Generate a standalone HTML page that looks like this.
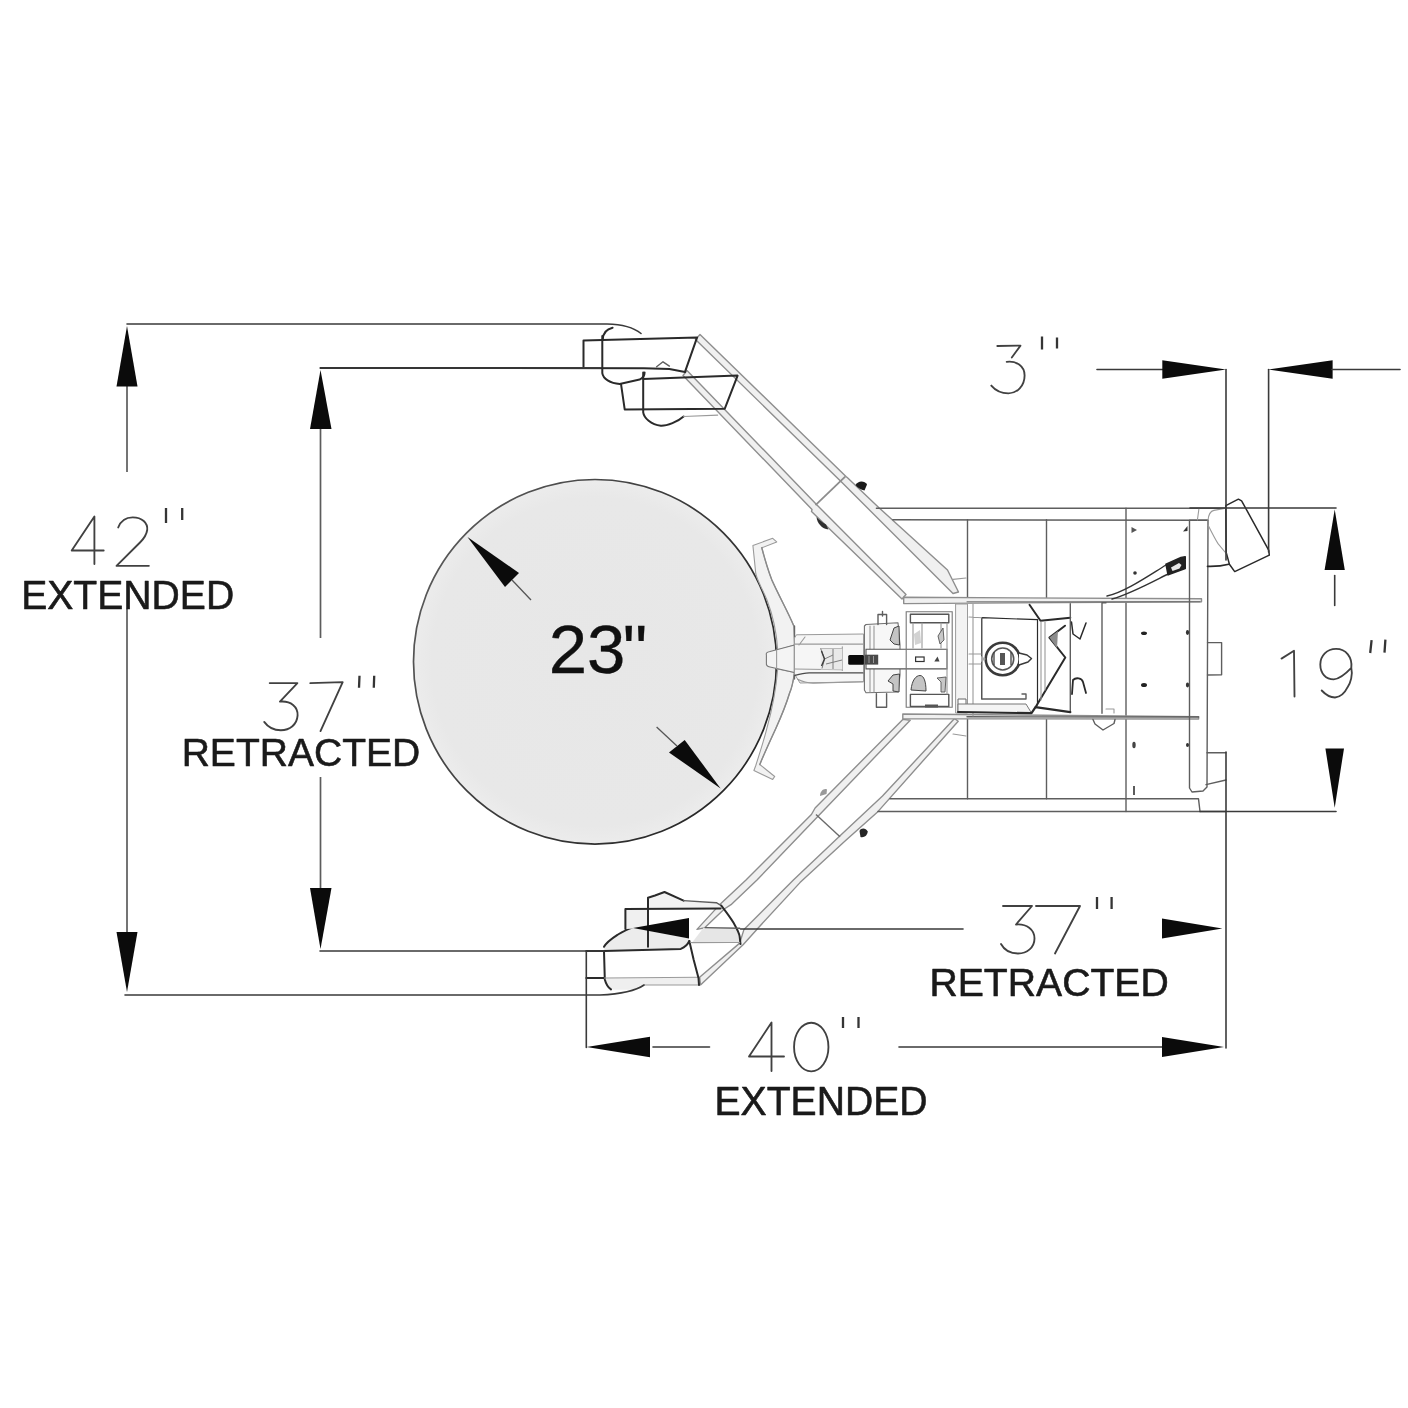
<!DOCTYPE html>
<html>
<head>
<meta charset="utf-8">
<title>Drum handler dimensions</title>
<style>
  html, body { margin: 0; padding: 0; background: #ffffff; }
  body { width: 1408px; height: 1408px; overflow: hidden; font-family: "Liberation Sans", sans-serif; }
  svg { display: block; filter: grayscale(1); }
  text { font-family: "Liberation Sans", sans-serif; }
  .dim { stroke: #3a3a3a; stroke-width: 1.6; fill: none; stroke-linecap: round; stroke-linejoin: round; }
  .dimg { stroke: #5c5c5c; stroke-width: 1.7; fill: none; }
  .ar { fill: #0b0b0b; stroke: none; }
  .num { stroke: #454040; stroke-width: 1.85; fill: none; stroke-linecap: round; stroke-linejoin: round; }
  .qt { stroke: #3a3434; stroke-width: 2.3; fill: none; stroke-linecap: butt; }
  .lbl { font-size: 41px; fill: #1a1a1a; stroke: #1a1a1a; stroke-width: 0.6; stroke-linejoin: round; }
  .ln { stroke: #5e5e5e; stroke-width: 1.4; fill: none; stroke-linecap: round; stroke-linejoin: round; }
  .lnd { stroke: #2a2a2a; stroke-width: 2; fill: none; stroke-linecap: round; stroke-linejoin: round; }
  .lt { stroke: #9a9a9a; stroke-width: 1.1; fill: none; stroke-linecap: round; stroke-linejoin: round; }
  .band { stroke: #8e8e8e; stroke-width: 1.4; fill: #f0f0f0; stroke-linejoin: round; }
</style>
</head>
<body>
<svg width="1408" height="1408" viewBox="0 0 1408 1408">
<rect x="0" y="0" width="1408" height="1408" fill="#ffffff"/>

<!-- ================= DRUM CIRCLE ================= -->
<g id="drum">
  <defs>
    <linearGradient id="cg" x1="0" y1="0.2" x2="1" y2="0.8">
      <stop offset="0" stop-color="#5c5c5c"/>
      <stop offset="0.45" stop-color="#3c3c3c"/>
      <stop offset="1" stop-color="#242424"/>
    </linearGradient>
    <radialGradient id="cf" cx="0.5" cy="0.5" r="0.5">
      <stop offset="0" stop-color="#e7e7e7"/>
      <stop offset="0.9" stop-color="#e8e8e8"/>
      <stop offset="1" stop-color="#ececec"/>
    </radialGradient>
  </defs>
  <ellipse cx="595" cy="661.8" rx="181.5" ry="182.3" fill="url(#cf)" stroke="url(#cg)" stroke-width="1.7"/>
  <polygon class="ar" points="467.5,537 519,573 505,587"/>
  <line x1="512" y1="580" x2="531" y2="600" stroke="#555" stroke-width="1.3"/>
  <polygon class="ar" points="720.6,788.4 669,752.5 684.7,740"/>
  <line x1="677" y1="746" x2="656.6" y2="727" stroke="#555" stroke-width="1.3"/>
  <text x="548.7" y="673.2" font-size="69" fill="#101010" stroke="#101010" stroke-width="0.3">23<tspan dx="-2.6">"</tspan></text>
</g>

<!-- ================= ARMS ================= -->
<g id="arms">
  <!-- upper arm : outer rail -->
  <polygon class="band" points="700,334.5 846,476.5 847.5,477.8 878.7,507.5 947.5,570 958.5,592 953,593.5 842,482.5 695.5,339.5"/>
  <!-- upper arm : inner rail -->
  <polygon class="band" points="687,370.5 816.5,504.5 906,594.5 902,599 811.5,511.5 812,509.5 683,375.5"/>
  <!-- collar upper -->
  <line x1="845.2" y1="476.6" x2="815.5" y2="505.2" stroke="#8d8d8d" stroke-width="1.8"/>
  <path d="M855.5,485 C858,480 865,480.5 867,484.5 L864.5,490.5 C861,489.5 857.5,488 855.5,485 Z" fill="#1a1a1a"/>
  <path d="M816.5,517 C817,523 822,529 828.5,529.5 L826,524.5 C822,522 819,519.5 816.5,517 Z" fill="#3a2a2e"/>

  <!-- lower arm : inner rail -->
  <polygon class="band" points="902.8,719.4 815.1,808 811.4,814.5 746,880 720.9,903.4 697,929.4 704.7,927.7 724.3,909 731,904.7 757,880 819.7,814.5 910.2,720.3"/>
  <!-- lower arm : outer rail -->
  <polygon class="band" points="954.5,718.5 882.5,796 841.9,833.9 793.4,880 744,929.4 739.7,943.1 699.6,977.2 700.5,984.9 743.1,944.8 758.4,927.7 800,882.6 845.6,840.4 877,812.6 958.2,721.2"/>
  <line x1="816" y1="814.5" x2="840" y2="836.7" stroke="#6a6a6a" stroke-width="1.4"/>
  <path d="M820,796 C820,791 824,788 827,789.5 L826.5,794 Z" fill="#a09890"/>
  <path d="M859.5,831 C861,827.5 866,828 867.7,831.5 C867.5,835.5 864,838 860.5,837 Z" fill="#2a2422"/>

  <!-- ===== upper pads ===== -->
  <!-- extended pad (top) -->
  <path class="lnd" d="M602.7,339.8 C603,333 607,329 612.6,327.8"/>
  <path class="lnd" d="M583.5,340.5 L583.5,366.8 M583.5,340.5 L697.1,337.4 L685,371.8"/>
  <path class="lnd" d="M320.5,368 L643.9,368.2 L669.4,369 L685,372"/>
  <path style="fill:none" class="lnd" d="M602.3,336 L602.3,373.2 C603,378.5 610,383.5 619.7,383.9 L639.6,379.6 C643,378 644.6,375.5 644.6,372.5"/>
  <path class="ln" d="M656.6,366.8 L663,361.8 L669.4,366.1"/>
  <!-- retracted pad -->
  <path class="lnd" d="M643.2,372.5 L643.2,412.3 C644,418 651,424.5 660.9,425.8 C667,426 678,421.5 683.6,416.5"/>
  <path class="lt" d="M683.6,416.5 L717.7,415.1"/>
  <path class="lnd" d="M621.1,384.6 L624.7,409.4 L724.8,408.7 L737.6,375.6 L643.2,378.9"/>

  <!-- ===== lower pads ===== -->
  <!-- extended pad (lowest) -->
  <path d="M604,951 L680.8,948.9 C686,946 688.5,943.5 689.3,941 L693.6,959.5 L698.5,978 L604,978 Z" fill="#ffffff" stroke="none"/>
  <path d="M604.5,978 L698.5,977.5 L699,985 L644,985 C636,991 622,990 611,989.4 C607,986 605,982.5 604.5,978 Z" fill="#efefef" stroke="none"/>
  <path d="M604,947 C606,943 610,939 614,937 C620,933 627,929.5 632.5,927.6 L689,938.5 C689,944 684,948 680.8,948.9 L604,951 Z" fill="#ececec" stroke="none"/>
  <path d="M691,944 L703.9,927.3 L738.8,929 L739.7,942.7 Z" fill="#e6e6e6" stroke="none"/>
  <path class="lnd" d="M604,946.8 C607,941.5 612.6,938 618,934.5 C624,931 628,929 632.5,927.6"/>
  <path class="lnd" d="M604,951 L680.8,948.9 C685,947 688,944 689.3,941"/>
  <path class="lnd" d="M586.3,951 L604,951 L604.8,979.4 C606,984 609,988 611,989.4 M586.3,978 L604.5,978"/>
  <path class="lt" d="M604.5,978 L698,977.3 M644,985 L699,985"/>
  <path class="lnd" d="M689.3,941 L693.6,959.5 L698.5,978 L699,985"/>
  <!-- retracted pad (lower) -->
  <path d="M648,897.75 L664.5,892 L683.6,900.6 L716.3,902.7 L721.3,905.6 L720.6,908.4 L648,909 Z" fill="#f2f2f2" stroke="none"/>
  <path d="M625.4,909 L648,909 L648,928 L625.4,929 Z" fill="#f0f0f0" stroke="none"/>
  <path class="lnd" d="M625.4,929 L625.4,909 L720.6,908.4"/>
  <path class="lnd" d="M648,946.75 L648,897.75 L655,895.5 L664.5,892 L683.6,900.6"/>
  <path class="ln" d="M683.6,900.6 L716.3,902.7 L721.3,905.6"/>
  <path class="lnd" d="M721.3,905.6 C727,913 731,918.5 733.4,922.6 C737,929 739.5,934 739.7,936.8 L740.5,944"/>
  <path class="ln" d="M705,927.6 L739.7,928.3"/>
  <path class="lt" d="M690.7,942.5 L739.7,942.5"/>
</g>


<!-- ================= FRAME ================= -->
<g id="frame">
  <!-- outer frame -->
  <path class="ln" d="M876.4,508.3 L1226,508.3"/>
  <path class="ln" d="M892.8,519.8 L1208,520.3"/>
  <path class="ln" d="M889.9,798.8 L1198.5,798.8 L1200,811.5"/>
  <path class="ln" d="M877.9,811.5 L1226,811.5"/>
  <!-- verticals -->
  <path class="ln" d="M967.5,519.8 L967.5,597 M967.5,718.5 L967.5,798.8"/>
  <path class="ln" d="M1046.5,519.8 L1046.5,599 M1046.5,718 L1046.5,798.8"/>
  <path class="ln" d="M1126,508.3 L1126,811.5"/>
  <path class="lt" d="M953,579.4 L966,578"/>
  <path class="lt" d="M953,734 L966,736"/>
  <!-- inner horizontal bands -->
  <polygon class="band" points="903.7,597.3 1201.5,598.8 1201.5,601.8 903.7,603.6"/>
  <polygon class="band" points="902.8,714 1198.6,716.6 1198.6,719 902.8,718.8"/>
  <path style="stroke-width:0.9" class="ln" d="M967,601.8 L1200,601.8"/>
  <path class="ln" d="M967,716.8 L1198.6,717"/>
  <!-- back plate -->
  <path d="M1189.5,520.3 L1208,520.3 L1207,787 L1203,791 L1192,792 L1189.5,788 Z" class="ln"/>
  <!-- tabs on the right -->
  <path class="ln" d="M1207.5,642.6 L1221.6,642.6 L1221.6,674.8 L1207.5,675"/>
  <path class="ln" d="M1207,752.7 L1226,752.7 M1226,780 L1206,784.6"/>
  <!-- top right caster -->
  <path d="M1225.8,505.6 L1238.4,499.2 L1241.6,500.8 L1268.8,550.3 L1269.3,555.1 L1234.7,571.6 L1229.4,564.2 L1226.2,552.4 Z" style="stroke-width:1.5;fill:#ffffff" class="lnd"/>
  <path class="lt" d="M1199,508.2 L1197.4,520 M1208,520.5 C1208.5,514 1211,511 1213.9,510.4 L1225.8,508.2 M1208,525 C1212,533 1215,539 1218.2,543.9 L1226.2,553.5"/><path style="stroke-width:1.7" class="lnd" d="M1207.5,566.3 C1215,566.5 1222,566 1228.8,564.2"/>
  <!-- rivet marks -->
  <path d="M1183,531.5 L1187.5,526 L1187.5,531 Z" fill="#333"/><path d="M1131.5,527 L1137,530 L1131.5,533 Z" fill="#555"/>
  <circle cx="1135" cy="573" r="1.8" fill="#333"/>
  <ellipse cx="1144" cy="633.2" rx="3" ry="1.8" fill="#2a2022"/>
  <ellipse cx="1144" cy="685" rx="3" ry="2" fill="#2a2022"/>
  <ellipse cx="1187.5" cy="632.5" rx="1.6" ry="2.4" fill="#333"/>
  <ellipse cx="1187.5" cy="685" rx="1.6" ry="2.4" fill="#333"/>
  <ellipse cx="1134" cy="745" rx="1.7" ry="3.2" fill="#444"/>
  <ellipse cx="1187.5" cy="745" rx="1.5" ry="2" fill="#333"/>
  <path d="M1134,786 L1134,795" stroke="#333" stroke-width="1.6"/>
  <!-- lever -->
  <path style="stroke:#333" class="ln" d="M1107,596 C1125,592 1148,576 1166,565 M1112,599 C1130,594 1150,583 1169,573.5"/>
  <path d="M1166,564.2 L1181,557.5 L1185.2,556.7 L1185.2,568.4 L1168.1,574.8 Z" fill="#222" stroke="#222" stroke-width="1.6" stroke-linejoin="round"/>
  <path d="M1171,567.5 L1179,563 L1181.5,565 L1179.5,568.5 L1172.5,571 Z" fill="#e8e8e8"/>
  <!-- small notch bottom -->
  <path class="ln" d="M1093,719.5 L1095,724 L1103,730 L1114,723.5 L1115,719.5"/>
</g>


<!-- ================= CENTRE MECHANISM ================= -->
<g id="mech">
  <!-- cradle hugging the drum -->
  <path d="M752.9,545.5 L772.7,538.3 L776.7,541.9 L761.8,547.8 C765,560 768,570 771.7,579.6 C779,596 788,612 793.6,625.4 L794.6,645 L777.7,650 C776.5,630 772,613 766.8,599.5 C762,588 757,580 755.8,573.7 Z" fill="#f1f2f2" stroke="#9a9a9a" stroke-width="1.1" stroke-linejoin="round"/>
  <path d="M777.7,669 L794.6,672.5 C793,683 791,690 789.6,693 C786,705 781,717 775.7,728.7 C770,741 764,754 759.8,764.5 L774.7,776.5 L772.7,779.4 L753.9,770.5 L755.8,765.5 C760,752 764,740 766.8,728.7 C772,710 776,690 777.7,669 Z" fill="#f1f2f2" stroke="#9a9a9a" stroke-width="1.1" stroke-linejoin="round"/>
  <path style="stroke:#8a8a8a" class="ln" d="M761.8,547.8 C765,560 768,570 771.7,579.6 C779,596 788,612 793.6,625.4"/>
  <path style="stroke:#8a8a8a" class="ln" d="M794.6,672.5 C793,683 791,690 789.6,693 C786,705 781,717 775.7,728.7 C770,741 764,754 759.8,764.5"/>
  <!-- nose -->
  <path d="M794.5,645 L770,651.5 C766,652 766,654 766.4,655 L766.4,663 C766,665.5 767,666.5 770,667 L794.5,672.5 Z" fill="#f4f4f4" stroke="#777" stroke-width="1.1" stroke-linejoin="round"/>
  <path class="lt" d="M776.6,650 L776.6,669"/>
  <path style="stroke:#666" class="ln" d="M794.5,626 L794.5,679"/>
  <!-- tube -->
  <path d="M796.4,634.8 L863.6,634 L863.6,681.8 L800,683 L794.5,674 L794.5,638 Z" fill="#f6f6f6" stroke="#9a9a9a" stroke-width="1"/>
  <path class="lt" d="M794.5,644.1 L863,644.1 M794.5,669 L842.3,669.7 M842.3,646.7 L842.3,670.5 M820.7,648.6 L842.4,648.6 M805,637 L799,645"/>
  <path d="M820.7,648.6 L842.3,648.6 L842.3,669.5 L820.7,669.5 Z" fill="#e9e9e9"/>
  <path d="M820.7,648.6 L824.5,659 L822,668.5 M824.5,659 L833,655 M826,664 L842,660 M833,649 L833,669" stroke="#7d7d7d" stroke-width="1" fill="none"/>
  <path d="M821.5,651 L824.5,659 L821.5,666" stroke="#3c3c3c" stroke-width="1.4" fill="none"/>
  <path style="stroke:#4a4a4a" class="ln" d="M795,675.4 C800,674 805,673 809.2,672.9 L862.9,672.9"/><path class="lt" d="M797.7,679.3 C803,682 808,683 813,683.1 L862.9,681.8"/>
  <rect x="848.2" y="654.9" width="16" height="9.8" rx="1.5" fill="#0a0a0a"/>
  <!-- block 1 -->
  <path d="M864.4,626 L866,624.5 L898,622.8 L900,645 L900,675 L898,692 L866,692.7 L864.4,690 Z" fill="#f7f7f7" stroke="#6f6f6f" stroke-width="1.1" stroke-linejoin="round"/>
  <path class="ln" d="M878,624.5 L878,614.5 L886.6,614.5 L886.6,624.5 M882.5,611.5 L882.5,616"/>
  <path class="ln" d="M876.4,693.6 L876.4,707.2 L886.6,707.2 L886.6,693.6"/>
  <path d="M890,640 L894,628 L899,626 L899.5,645 L894,644 Z" fill="#c4c4c4" stroke="#444" stroke-width="1"/>
  <path d="M888,681 L893,675 L899.5,674 L899,692 L893,691 L893,684 Z" fill="#c4c4c4" stroke="#444" stroke-width="1"/>
  <path class="lt" d="M870,626 L870,692 M874,626 L874,692"/>
  <!-- beam -->
  <path d="M866,649.3 L947,649.3 L947,668.9 L866,668.9 Z" fill="#ffffff" stroke="#555" stroke-width="1.1"/>
  <rect x="864.8" y="654.7" width="13.4" height="9.9" fill="#4a4a4a"/><path d="M869,656 L869,663 M873.5,656 L873.5,663" stroke="#9a9a9a" stroke-width="1"/>
  <rect x="915.6" y="657" width="8.5" height="4.5" fill="none" stroke="#333" stroke-width="1.2"/>
  <path d="M934.3,661.5 L937.5,656.5 L939.5,661.5 Z" fill="#444"/>
  <!-- right block -->
  <path d="M906.2,611.8 L952.2,611.8 L952.2,707.2 L906.2,707.2 Z" fill="none" stroke="#777" stroke-width="1.1"/>
  <path style="stroke:#555" class="ln" d="M910.4,614.3 L948.8,614.3 L948.8,622.8 L910.4,622.8 Z"/>
  <path style="stroke:#555" class="ln" d="M910.4,694.4 L948.8,694.4 L948.8,706.4 L910.4,706.4 Z"/>
  <path class="lt" d="M913,623 L913,648 M922,623 L922,648 M947,623 L947,694 M941,623 L941,648"/>
  <path d="M914,634 L920,630 L921,643 L915,645 Z" fill="#d2d2d2"/>
  <path d="M938,636 L943,628 L944,640 L940,644 Z" fill="#c8c8c8" stroke="#555" stroke-width="0.9"/>
  <path d="M911,690 C912,680 916,675.5 920,675.5 C924,675.5 926,682 926,691 Z" fill="#c4c4c4" stroke="#444" stroke-width="1"/>
  <path d="M937,678 L946,677 L945,692 L941,692 L941,682 Z" fill="#c8c8c8" stroke="#555" stroke-width="0.9"/>
  <path d="M925,704.5 L938,704.5 L938,707.5 L925,707.5 Z" fill="#555"/>
  <!-- column -->
  <path d="M955.6,604 L967.5,604 L967.5,713 L955.6,713 Z" fill="#f3f3f3" stroke="#9a9a9a" stroke-width="1"/>
  <path d="M958,699 L966,699 L966,711 L958,711 Z" fill="#ffffff" stroke="#666" stroke-width="1"/>
  <!-- motor box -->
  <path style="stroke-width:1.2" class="lnd" d="M981.8,699 L981.8,617.7 L1037.5,619.7 L1037.5,705"/>
  <path class="lt" d="M969,617 L981.8,617.7 M969,654 L981,654 M969,664 L981,664 M973,604 L973,716"/>
  <path class="lnd" d="M1029.5,604.8 L1040.5,620.7 L1070.3,617.7"/>
  <path class="ln" d="M1070.3,603.8 L1070.3,712.2"/>
  <path class="lnd" d="M1065,625.7 L1049.4,637.6 L1065.3,657.5 L1035.5,707.2"/>
  <path d="M1049.4,637.6 L1058,631 L1057,648 Z" fill="#8c8c8c"/>
  <path class="lt" d="M1041,622 L1041,700 M1045,622 L1045,690"/>
  <path d="M958,704 L1026,704 L1031.5,713 L958,712 Z" fill="#f4f4f4" stroke="#777" stroke-width="1"/>
  <path style="stroke-width:2.2" class="lnd" d="M958,712 L1031.5,713.2 L1035.5,707.2 L1070.3,712.2"/>
  <path class="ln" d="M982,699 L1026,699 L1026,694 L1022,694"/>
  <!-- eye shape -->
  <ellipse cx="1002.7" cy="659" rx="17" ry="16.2" fill="#ffffff" stroke="#3a3a3a" stroke-width="2.6"/>
  <ellipse cx="1002.7" cy="659" rx="11" ry="11" fill="#ffffff" stroke="#555" stroke-width="1.6"/>
  <path d="M1019,653 L1027,655 L1031.5,658.5 L1028,662 L1019,665" fill="#ffffff" stroke="#3a3a3a" stroke-width="1.5" stroke-linejoin="round"/>
  <path d="M1000,653 L1005,653 L1005,665 L1000,665 Z" fill="#555"/>
  <path d="M994,652 L994,665 M1011,652 L1011,665" stroke="#444" stroke-width="1.3"/>
  <path d="M986,659 L981,656 L981,662 Z" fill="#aaa"/>
  <!-- clips -->
  <path style="stroke-width:1.5" class="lnd" d="M1071.5,622 L1073,634 L1080,639 L1086,623"/>
  <path style="stroke-width:1.8" class="lnd" d="M1072,694 L1073,680 C1076,677 1082,678 1083,682 L1086,693"/>
  <!-- panel -->
  <path class="ln" d="M1102,713.2 L1102,602.8 L1106,602.8"/>
  <path class="lt" d="M1106,709 L1114,709 L1114,713"/>
</g>


<!-- ================= DIMENSIONS ================= -->
<g id="dims">
  <!-- 42" extended (left, vertical) -->
  <path class="dim" d="M127,324 L607,324 Q630,324.5 641,333.5"/>
  <line class="dimg" x1="127" y1="386" x2="127" y2="472"/>
  <polygon class="ar" points="127,326 137.5,386.5 116.5,386.5"/>
  <line class="dimg" x1="127" y1="609" x2="127" y2="932"/>
  <polygon class="ar" points="127,992 137.5,932 116.5,932"/>
  <path class="dim" d="M125,995 L600,995 Q632,993.5 644,985"/>
  <!-- digits 42" -->
  <path class="num" d="M103.7,550.5 L71.7,550.5 L94.4,516.4 L94.4,564.1"/>
  <path class="num" d="M118.2,527.5 C121,520 127,517.3 132.7,517.3 C142,517.3 148,523 147.2,530 C146.5,535 144,538.5 140,542.5 L116.5,565.8 L148.9,565.8"/>
  <path class="qt" d="M166,508 L166,523 M182.2,508 L182.2,520"/>
  <text class="lbl" x="21.2" y="608.5" textLength="213" lengthAdjust="spacingAndGlyphs">EXTENDED</text>

  <!-- 37" retracted (left, vertical) -->
  <path class="dim" d="M320.5,368 L600,368"/>
  <polygon class="ar" points="320.5,370 331.5,429 310,429"/>
  <line class="dimg" x1="320.5" y1="429" x2="320.5" y2="638"/>
  <line class="dimg" x1="320.5" y1="777" x2="320.5" y2="888"/>
  <polygon class="ar" points="320.5,949 331.5,888 310,888"/>
  <path class="dim" d="M320,951 L604,951"/>
  <!-- digits 37" -->
  <path class="num" d="M269.7,683.1 L297.4,683.1 L279.9,701.6 C291,700.5 298,707 297.6,715.4 C297,724.5 290,730.2 280.8,730.2 C273,730.2 267.5,726.5 264.2,721.9"/>
  <path class="num" d="M310.3,683.1 L342.7,682.2 L320.5,731.1"/>
  <path class="qt" d="M359.5,675.7 L359,687.7 M374.2,675.7 L373.8,687.7"/>
  <text class="lbl" style="font-size:39.5px" x="181.7" y="766.2" textLength="238.5" lengthAdjust="spacingAndGlyphs">RETRACTED</text>

  <!-- 3" (top right) -->
  <line class="dim" x1="1097" y1="369.5" x2="1163" y2="369.5"/>
  <polygon class="ar" points="1226,369.5 1162.3,360.3 1162.3,378.8"/>
  <line class="dim" x1="1226" y1="369.5" x2="1226" y2="560"/>
  <line class="dim" x1="1268.6" y1="369.5" x2="1268.6" y2="552"/>
  <polygon class="ar" points="1268,369.5 1332.6,360.3 1332.6,378.8"/>
  <line class="dim" x1="1332" y1="369.5" x2="1400" y2="369.5"/>
  <path class="num" d="M997.3,346 L1020.5,345.6 L1011.8,357.5 M1006.7,361.8 C1016,360.5 1024.6,366 1024.6,375.4 C1024.6,386 1017,393.3 1008.4,393.3 C1001,393.3 995,390 991.3,385.6"/>
  <path class="qt" d="M1042,336.6 L1042,349.4 M1057,337.5 L1057,348.6"/>

  <!-- 19" (right, vertical) -->
  <line class="dim" x1="1190" y1="508" x2="1336" y2="508"/>
  <polygon class="ar" points="1334.7,509.5 1344.8,570 1324.6,570"/>
  <line class="dim" x1="1334.7" y1="575.5" x2="1334.7" y2="605.5"/>
  <polygon class="ar" points="1334.7,807.8 1344,748.4 1325.4,748.4"/>
  <line class="dim" x1="1200" y1="811.5" x2="1336" y2="811.5"/>
  <path class="num" d="M1281.5,658.6 L1294,650.8 L1294.5,696.5"/>
  <path class="num" d="M1351.3,667.9 C1352.5,657 1346,648.9 1336,648.9 C1327,648.9 1320.3,655.5 1320.3,664.5 C1320.3,673.5 1326,679.4 1333.7,679.4 C1340,679 1346,673.5 1351.3,667.9 C1353,675 1350.5,683 1347.6,687.2 C1345,692.5 1342,697 1335,697.5 C1330,697.5 1325,694 1321.7,690.5"/>
  <path class="qt" d="M1371.6,640.2 L1370.2,653 M1385.4,639.7 L1384.5,652.6"/>

  <!-- 37" retracted (bottom, horizontal) -->
  <line class="dim" x1="740.5" y1="929" x2="963" y2="929"/>
  <polygon class="ar" points="633,928 689,918 689,938.5"/>
  <polygon class="ar" points="1222.4,928.5 1162,918.5 1162,938.5"/>
  <path class="num" d="M1003,906 L1032,906 L1016,924.5 C1026.5,923.5 1034.5,929.5 1034.5,938.5 C1034.5,947.5 1027,953.5 1018,953.5 C1010,953.5 1004,949.5 1001,944"/>
  <path class="num" d="M1036,906 L1080,906 L1055,953.5"/>
  <path class="qt" d="M1097,897 L1097,909 M1111.6,897 L1111.6,909"/>
  <text class="lbl" style="font-size:39.5px" x="929.4" y="995.8" textLength="239.4" lengthAdjust="spacingAndGlyphs">RETRACTED</text>

  <!-- 40" extended (bottom, horizontal) -->
  <line class="dim" x1="586.3" y1="951" x2="586.3" y2="1047.5"/>
  <polygon class="ar" points="586.6,1047 650,1036.7 650,1057.3"/>
  <line class="dim" x1="653" y1="1047" x2="709.5" y2="1047"/>
  <line class="dim" x1="899" y1="1047" x2="1163" y2="1047"/>
  <polygon class="ar" points="1224,1047 1162,1037 1162,1057"/>
  <line class="dim" x1="1226" y1="752" x2="1226" y2="1048"/>
  <path class="num" d="M784,1056.5 L749,1056.5 L771.5,1022.5 L771.5,1071"/>
  <ellipse class="num" cx="811.25" cy="1047" rx="17.2" ry="24.3"/>
  <path class="qt" d="M843,1017 L843,1028 M858.5,1017 L858.5,1028"/>
  <text class="lbl" x="714.5" y="1114.7" textLength="213" lengthAdjust="spacingAndGlyphs">EXTENDED</text>
</g>


</svg>
</body>
</html>
